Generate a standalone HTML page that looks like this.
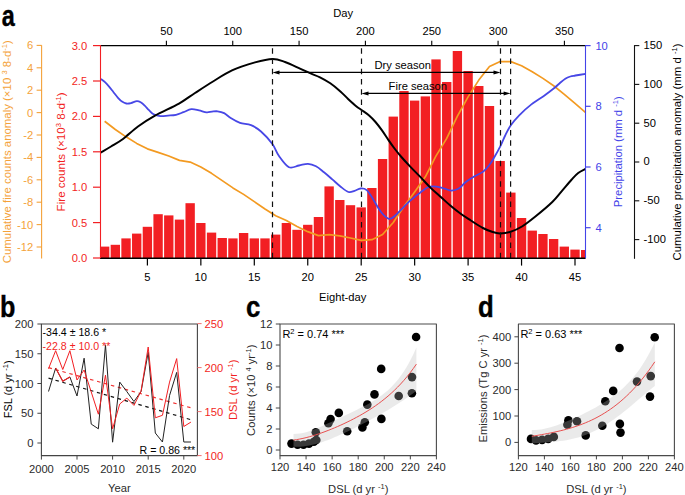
<!DOCTYPE html>
<html><head><meta charset="utf-8"><style>
html,body{margin:0;padding:0;background:#fff;width:685px;height:495px;overflow:hidden}
svg{display:block;font-family:"Liberation Sans", sans-serif}
</style></head><body>
<svg width="685" height="495" viewBox="0 0 685 495">
<rect width="685" height="495" fill="#fff"/>
<rect x="99.97" y="246.6" width="9.35" height="11.6" fill="#F21F23"/>
<rect x="110.66" y="244.8" width="9.35" height="13.4" fill="#F21F23"/>
<rect x="121.35" y="238.4" width="9.35" height="19.8" fill="#F21F23"/>
<rect x="132.03" y="233.6" width="9.35" height="24.6" fill="#F21F23"/>
<rect x="142.72" y="226.8" width="9.35" height="31.4" fill="#F21F23"/>
<rect x="153.41" y="214.2" width="9.35" height="44" fill="#F21F23"/>
<rect x="164.1" y="215.4" width="9.35" height="42.8" fill="#F21F23"/>
<rect x="174.79" y="219.6" width="9.35" height="38.6" fill="#F21F23"/>
<rect x="185.48" y="203.2" width="9.35" height="55" fill="#F21F23"/>
<rect x="196.17" y="223" width="9.35" height="35.2" fill="#F21F23"/>
<rect x="206.87" y="232.6" width="9.35" height="25.6" fill="#F21F23"/>
<rect x="217.56" y="238" width="9.35" height="20.2" fill="#F21F23"/>
<rect x="228.25" y="238.4" width="9.35" height="19.8" fill="#F21F23"/>
<rect x="238.94" y="233" width="9.35" height="25.2" fill="#F21F23"/>
<rect x="249.62" y="238.4" width="9.35" height="19.8" fill="#F21F23"/>
<rect x="260.31" y="238.4" width="9.35" height="19.8" fill="#F21F23"/>
<rect x="271" y="234.6" width="9.35" height="23.6" fill="#F21F23"/>
<rect x="281.69" y="223" width="9.35" height="35.2" fill="#F21F23"/>
<rect x="292.38" y="229.8" width="9.35" height="28.4" fill="#F21F23"/>
<rect x="303.07" y="224.8" width="9.35" height="33.4" fill="#F21F23"/>
<rect x="313.76" y="217" width="9.35" height="41.2" fill="#F21F23"/>
<rect x="324.45" y="186.4" width="9.35" height="71.8" fill="#F21F23"/>
<rect x="335.14" y="200" width="9.35" height="58.2" fill="#F21F23"/>
<rect x="345.83" y="205.2" width="9.35" height="53" fill="#F21F23"/>
<rect x="356.52" y="207.4" width="9.35" height="50.8" fill="#F21F23"/>
<rect x="367.21" y="188" width="9.35" height="70.2" fill="#F21F23"/>
<rect x="377.9" y="159" width="9.35" height="99.2" fill="#F21F23"/>
<rect x="388.59" y="116.6" width="9.35" height="141.6" fill="#F21F23"/>
<rect x="399.29" y="91" width="9.35" height="167.2" fill="#F21F23"/>
<rect x="409.97" y="100.6" width="9.35" height="157.6" fill="#F21F23"/>
<rect x="420.67" y="96.4" width="9.35" height="161.8" fill="#F21F23"/>
<rect x="431.35" y="59.4" width="9.35" height="198.8" fill="#F21F23"/>
<rect x="442.05" y="82" width="9.35" height="176.2" fill="#F21F23"/>
<rect x="452.73" y="51" width="9.35" height="207.2" fill="#F21F23"/>
<rect x="463.43" y="71" width="9.35" height="187.2" fill="#F21F23"/>
<rect x="474.11" y="86" width="9.35" height="172.2" fill="#F21F23"/>
<rect x="484.81" y="106" width="9.35" height="152.2" fill="#F21F23"/>
<rect x="495.49" y="161" width="9.35" height="97.2" fill="#F21F23"/>
<rect x="506.19" y="192.6" width="9.35" height="65.6" fill="#F21F23"/>
<rect x="516.88" y="218" width="9.35" height="40.2" fill="#F21F23"/>
<rect x="527.57" y="230.6" width="9.35" height="27.6" fill="#F21F23"/>
<rect x="538.25" y="234" width="9.35" height="24.2" fill="#F21F23"/>
<rect x="548.95" y="239" width="9.35" height="19.2" fill="#F21F23"/>
<rect x="559.63" y="246.6" width="9.35" height="11.6" fill="#F21F23"/>
<rect x="570.33" y="249.6" width="9.35" height="8.6" fill="#F21F23"/>
<rect x="581.01" y="250" width="4.59" height="8.2" fill="#F21F23"/>
<polyline fill="none" stroke="#F39A21" stroke-width="1.7" stroke-linejoin="round" points="104.64,121.21 115.33,129.53 126.02,136.84 136.71,143.39 147.4,148.86 158.09,152.34 168.78,156.01 179.47,160.35 190.16,162.09 200.85,166.96 211.54,173.35 222.23,180.6 232.92,187.91 243.61,194.36 254.3,201.67 264.99,208.98 275.68,215.69 286.37,220.56 297.06,226.51 307.75,231.67 318.44,235.59 329.13,234.68 339.82,235.91 350.51,237.97 361.2,240.37 371.89,239.71 382.58,234.46 393.27,222.5 403.96,206.49 414.65,192 425.34,176.85 436.03,155.84 446.72,138.41 457.41,116.07 468.1,96.9 478.79,80.1 489.48,66.46 500.17,61.53 510.86,61.59 521.55,65.68 532.24,71.75 542.93,78.36 553.62,85.77 564.31,94.37 575,103.46 585.69,112.6"/>
<path d="M100.8,78.9 C101.5,79.45 103.62,80.9 105,82.2 C106.38,83.5 107.68,85.03 109.1,86.7 C110.52,88.37 112.02,90.35 113.5,92.2 C114.98,94.05 116.58,96.23 118,97.8 C119.42,99.37 120.62,100.65 122,101.6 C123.38,102.55 124.8,103.25 126.3,103.5 C127.8,103.75 129.23,103.5 131,103.1 C132.77,102.7 135.23,101.2 136.9,101.1 C138.57,101 139.7,101.75 141,102.5 C142.3,103.25 143.37,104.32 144.7,105.6 C146.03,106.88 147.52,108.75 149,110.2 C150.48,111.65 151.73,113.32 153.6,114.3 C155.47,115.28 157.8,115.88 160.2,116.1 C162.6,116.32 165.37,115.82 168,115.6 C170.63,115.38 173.42,115.37 176,114.8 C178.58,114.23 180.95,113.13 183.5,112.2 C186.05,111.27 188.72,109.5 191.3,109.2 C193.88,108.9 196.45,109.88 199,110.4 C201.55,110.92 204.43,112.1 206.6,112.3 C208.77,112.5 210.17,111.77 212,111.6 C213.83,111.43 215.58,111.05 217.6,111.3 C219.62,111.55 221.92,111.98 224.1,113.1 C226.28,114.22 228.05,116.37 230.7,118 C233.35,119.63 236.62,121.7 240,122.9 C243.38,124.1 247.5,123.77 251,125.2 C254.5,126.63 257.43,128.37 261,131.5 C264.57,134.63 269.4,139.92 272.4,144 C275.4,148.08 276.23,152.13 279,156 C281.77,159.87 285.67,165.62 289,167.2 C292.33,168.78 295.83,166.07 299,165.5 C302.17,164.93 305.17,163.67 308,163.8 C310.83,163.93 313.33,164.88 316,166.3 C318.67,167.72 321.28,170.12 324,172.3 C326.72,174.48 329.57,177.03 332.3,179.4 C335.03,181.77 337.7,184.4 340.4,186.5 C343.1,188.6 346.15,191.27 348.5,192 C350.85,192.73 352.48,191.48 354.5,190.9 C356.52,190.32 358.57,188.63 360.6,188.5 C362.63,188.37 364.68,188.42 366.7,190.1 C368.72,191.78 370.35,195 372.7,198.6 C375.05,202.2 378.1,208.33 380.8,211.7 C383.5,215.07 386.53,218.12 388.9,218.8 C391.27,219.48 393.15,217.13 395,215.8 C396.85,214.47 397.47,213.32 400,210.8 C402.53,208.28 406.82,203.73 410.2,200.7 C413.58,197.67 417.27,194.88 420.3,192.6 C423.33,190.32 425.7,188 428.4,187 C431.1,186 433.82,186.33 436.5,186.6 C439.18,186.87 441.98,187.93 444.5,188.6 C447.02,189.27 449.23,190.6 451.6,190.6 C453.97,190.6 456.38,189.98 458.7,188.6 C461.02,187.22 462.93,184.3 465.5,182.3 C468.07,180.3 471.15,178.38 474.1,176.6 C477.05,174.82 480.68,173.48 483.2,171.6 C485.72,169.72 487.35,167.7 489.2,165.3 C491.05,162.9 492.43,160.4 494.3,157.2 C496.17,154 498.58,149.72 500.4,146.1 C502.22,142.48 503.47,138.97 505.2,135.5 C506.93,132.03 508.47,128.67 510.8,125.3 C513.13,121.93 515.77,118.78 519.2,115.3 C522.63,111.82 527.35,107.58 531.4,104.4 C535.45,101.22 540.38,98.38 543.5,96.2 C546.62,94.02 548.15,92.78 550.1,91.3 C552.05,89.82 553.52,88.73 555.2,87.3 C556.88,85.87 558.52,84.13 560.2,82.7 C561.88,81.27 563.62,79.73 565.3,78.7 C566.98,77.67 568.62,77.03 570.3,76.5 C571.98,75.97 572.85,75.93 575.4,75.5 C577.95,75.07 583.9,74.17 585.6,73.9" fill="none" stroke="#4747E6" stroke-width="1.8"/>
<path d="M100.6,152.6 C102.33,151.58 107.27,148.77 111,146.5 C114.73,144.23 118.5,142.33 123,139 C127.5,135.67 132.67,130.4 138,126.5 C143.33,122.6 148.17,119.42 155,115.6 C161.83,111.78 172.33,107.37 179,103.6 C185.67,99.83 189.33,96.68 195,93 C200.67,89.32 206.83,85.27 213,81.5 C219.17,77.73 225,73.58 232,70.4 C239,67.22 248.23,64.3 255,62.4 C261.77,60.5 267.6,59.07 272.6,59 C277.6,58.93 280.43,60.4 285,62 C289.57,63.6 295.83,66.73 300,68.6 C304.17,70.47 306.67,71.75 310,73.2 C313.33,74.65 316.62,75.62 320,77.3 C323.38,78.98 326.9,80.95 330.3,83.3 C333.7,85.65 337.43,88.8 340.4,91.4 C343.37,94 345.47,96.43 348.1,98.9 C350.73,101.37 353.92,104.32 356.2,106.2 C358.48,108.08 359.65,108.65 361.8,110.2 C363.95,111.75 366.82,113.53 369.1,115.5 C371.38,117.47 373.35,119.52 375.5,122 C377.65,124.48 379.83,127.38 382,130.4 C384.17,133.42 386.35,137 388.5,140.1 C390.65,143.2 392.75,146.18 394.9,149 C397.05,151.82 398.85,154.07 401.4,157 C403.95,159.93 407.05,163.28 410.2,166.6 C413.35,169.92 416.93,173.4 420.3,176.9 C423.67,180.4 427.03,184.3 430.4,187.6 C433.77,190.9 437.13,193.67 440.5,196.7 C443.87,199.73 447.23,202.95 450.6,205.8 C453.97,208.65 457.33,211.35 460.7,213.8 C464.07,216.25 467.1,218.13 470.8,220.5 C474.5,222.87 479.37,226.12 482.9,228 C486.43,229.88 489.15,230.9 492,231.8 C494.85,232.7 497,233.37 500,233.4 C503,233.43 506.33,233.15 510,232 C513.67,230.85 517.67,229.17 522,226.5 C526.33,223.83 530.95,220.08 536,216 C541.05,211.92 547.97,206.2 552.3,202 C556.63,197.8 558.77,194.55 562,190.8 C565.23,187.05 569,182.47 571.7,179.5 C574.4,176.53 575.88,174.77 578.2,173 C580.52,171.23 584.37,169.58 585.6,168.9" fill="none" stroke="#000" stroke-width="2"/>
<line x1="272.5" y1="48.3" x2="272.5" y2="258.2" stroke="#111" stroke-width="1.2" stroke-dasharray="5.5 4.72"/>
<line x1="361.5" y1="48.3" x2="361.5" y2="258.2" stroke="#111" stroke-width="1.2" stroke-dasharray="5.5 4.72"/>
<line x1="500.5" y1="48.3" x2="500.5" y2="258.2" stroke="#111" stroke-width="1.2" stroke-dasharray="5.5 4.72"/>
<line x1="510.6" y1="48.3" x2="510.6" y2="258.2" stroke="#111" stroke-width="1.2" stroke-dasharray="5.5 4.72"/>
<line x1="277.5" y1="72.4" x2="495.5" y2="72.4" stroke="#000" stroke-width="1.1" />
<path d="M272.5,72.4 L279.5,70.4 L279.5,74.4 Z" fill="#000"/>
<path d="M500.5,72.4 L493.5,70.4 L493.5,74.4 Z" fill="#000"/>
<line x1="366.5" y1="93.4" x2="505.6" y2="93.4" stroke="#000" stroke-width="1.1" />
<path d="M361.5,93.4 L368.5,91.4 L368.5,95.4 Z" fill="#000"/>
<path d="M510.6,93.4 L503.6,91.4 L503.6,95.4 Z" fill="#000"/>
<text x="374.4" y="69.2" font-size="11.2" fill="#000" text-anchor="start" font-weight="normal" >Dry season</text>
<text x="388.6" y="90" font-size="11.2" fill="#000" text-anchor="start" font-weight="normal" >Fire season</text>
<line x1="100" y1="45.6" x2="585.6" y2="45.6" stroke="#000" stroke-width="1.2" />
<line x1="100" y1="258.2" x2="585.6" y2="258.2" stroke="#000" stroke-width="1.4" />
<line x1="100.5" y1="45" x2="100.5" y2="258.2" stroke="#F21F23" stroke-width="1.1" />
<line x1="41.6" y1="45.3" x2="41.6" y2="258.6" stroke="#F4A23A" stroke-width="1.1" />
<line x1="585.5" y1="45" x2="585.5" y2="258.2" stroke="#4343E8" stroke-width="1.1" />
<line x1="634.5" y1="45.1" x2="634.5" y2="258.8" stroke="#111" stroke-width="1.1" />
<line x1="166.4" y1="40.8" x2="166.4" y2="45.6" stroke="#000" stroke-width="1.1" />
<text x="166.4" y="35" font-size="11.2" fill="#000" text-anchor="middle" font-weight="normal" >50</text>
<line x1="232.74" y1="40.8" x2="232.74" y2="45.6" stroke="#000" stroke-width="1.1" />
<text x="232.74" y="35" font-size="11.2" fill="#000" text-anchor="middle" font-weight="normal" >100</text>
<line x1="299.07" y1="40.8" x2="299.07" y2="45.6" stroke="#000" stroke-width="1.1" />
<text x="299.07" y="35" font-size="11.2" fill="#000" text-anchor="middle" font-weight="normal" >150</text>
<line x1="365.41" y1="40.8" x2="365.41" y2="45.6" stroke="#000" stroke-width="1.1" />
<text x="365.41" y="35" font-size="11.2" fill="#000" text-anchor="middle" font-weight="normal" >200</text>
<line x1="431.75" y1="40.8" x2="431.75" y2="45.6" stroke="#000" stroke-width="1.1" />
<text x="431.75" y="35" font-size="11.2" fill="#000" text-anchor="middle" font-weight="normal" >250</text>
<line x1="498.08" y1="40.8" x2="498.08" y2="45.6" stroke="#000" stroke-width="1.1" />
<text x="498.08" y="35" font-size="11.2" fill="#000" text-anchor="middle" font-weight="normal" >300</text>
<line x1="564.41" y1="40.8" x2="564.41" y2="45.6" stroke="#000" stroke-width="1.1" />
<text x="564.41" y="35" font-size="11.2" fill="#000" text-anchor="middle" font-weight="normal" >350</text>
<text x="343.2" y="16.8" font-size="11.2" fill="#000" text-anchor="middle" font-weight="normal" >Day</text>
<line x1="147.4" y1="258.2" x2="147.4" y2="265.6" stroke="#000" stroke-width="1.2" />
<text x="147.4" y="280.6" font-size="11.2" fill="#000" text-anchor="middle" font-weight="normal" >5</text>
<line x1="200.85" y1="258.2" x2="200.85" y2="265.6" stroke="#000" stroke-width="1.2" />
<text x="200.85" y="280.6" font-size="11.2" fill="#000" text-anchor="middle" font-weight="normal" >10</text>
<line x1="254.3" y1="258.2" x2="254.3" y2="265.6" stroke="#000" stroke-width="1.2" />
<text x="254.3" y="280.6" font-size="11.2" fill="#000" text-anchor="middle" font-weight="normal" >15</text>
<line x1="307.75" y1="258.2" x2="307.75" y2="265.6" stroke="#000" stroke-width="1.2" />
<text x="307.75" y="280.6" font-size="11.2" fill="#000" text-anchor="middle" font-weight="normal" >20</text>
<line x1="361.2" y1="258.2" x2="361.2" y2="265.6" stroke="#000" stroke-width="1.2" />
<text x="361.2" y="280.6" font-size="11.2" fill="#000" text-anchor="middle" font-weight="normal" >25</text>
<line x1="414.65" y1="258.2" x2="414.65" y2="265.6" stroke="#000" stroke-width="1.2" />
<text x="414.65" y="280.6" font-size="11.2" fill="#000" text-anchor="middle" font-weight="normal" >30</text>
<line x1="468.1" y1="258.2" x2="468.1" y2="265.6" stroke="#000" stroke-width="1.2" />
<text x="468.1" y="280.6" font-size="11.2" fill="#000" text-anchor="middle" font-weight="normal" >35</text>
<line x1="521.55" y1="258.2" x2="521.55" y2="265.6" stroke="#000" stroke-width="1.2" />
<text x="521.55" y="280.6" font-size="11.2" fill="#000" text-anchor="middle" font-weight="normal" >40</text>
<line x1="575" y1="258.2" x2="575" y2="265.6" stroke="#000" stroke-width="1.2" />
<text x="575" y="280.6" font-size="11.2" fill="#000" text-anchor="middle" font-weight="normal" >45</text>
<text x="342.7" y="301" font-size="11.2" fill="#000" text-anchor="middle" font-weight="normal" >Eight-day</text>
<line x1="93" y1="258" x2="100" y2="258" stroke="#F21F23" stroke-width="1.2" />
<text x="87.2" y="262" font-size="11.2" fill="#F21F23" text-anchor="end" font-weight="normal" >0.0</text>
<line x1="93" y1="222.6" x2="100" y2="222.6" stroke="#F21F23" stroke-width="1.2" />
<text x="87.2" y="226.6" font-size="11.2" fill="#F21F23" text-anchor="end" font-weight="normal" >0.5</text>
<line x1="93" y1="187.2" x2="100" y2="187.2" stroke="#F21F23" stroke-width="1.2" />
<text x="87.2" y="191.2" font-size="11.2" fill="#F21F23" text-anchor="end" font-weight="normal" >1.0</text>
<line x1="93" y1="151.8" x2="100" y2="151.8" stroke="#F21F23" stroke-width="1.2" />
<text x="87.2" y="155.8" font-size="11.2" fill="#F21F23" text-anchor="end" font-weight="normal" >1.5</text>
<line x1="93" y1="116.4" x2="100" y2="116.4" stroke="#F21F23" stroke-width="1.2" />
<text x="87.2" y="120.4" font-size="11.2" fill="#F21F23" text-anchor="end" font-weight="normal" >2.0</text>
<line x1="93" y1="81" x2="100" y2="81" stroke="#F21F23" stroke-width="1.2" />
<text x="87.2" y="85" font-size="11.2" fill="#F21F23" text-anchor="end" font-weight="normal" >2.5</text>
<line x1="93" y1="45.6" x2="100" y2="45.6" stroke="#F21F23" stroke-width="1.2" />
<text x="87.2" y="49.6" font-size="11.2" fill="#F21F23" text-anchor="end" font-weight="normal" >3.0</text>
<line x1="36.6" y1="45.4" x2="41.7" y2="45.4" stroke="#F4A23A" stroke-width="1.1" />
<text x="33.2" y="49.4" font-size="11.2" fill="#F4A23A" text-anchor="end" font-weight="normal" >6</text>
<line x1="36.6" y1="67.8" x2="41.7" y2="67.8" stroke="#F4A23A" stroke-width="1.1" />
<text x="33.2" y="71.8" font-size="11.2" fill="#F4A23A" text-anchor="end" font-weight="normal" >4</text>
<line x1="36.6" y1="90.2" x2="41.7" y2="90.2" stroke="#F4A23A" stroke-width="1.1" />
<text x="33.2" y="94.2" font-size="11.2" fill="#F4A23A" text-anchor="end" font-weight="normal" >2</text>
<line x1="36.6" y1="112.6" x2="41.7" y2="112.6" stroke="#F4A23A" stroke-width="1.1" />
<text x="33.2" y="116.6" font-size="11.2" fill="#F4A23A" text-anchor="end" font-weight="normal" >0</text>
<line x1="36.6" y1="135" x2="41.7" y2="135" stroke="#F4A23A" stroke-width="1.1" />
<text x="33.2" y="139" font-size="11.2" fill="#F4A23A" text-anchor="end" font-weight="normal" >-2</text>
<line x1="36.6" y1="157.4" x2="41.7" y2="157.4" stroke="#F4A23A" stroke-width="1.1" />
<text x="33.2" y="161.4" font-size="11.2" fill="#F4A23A" text-anchor="end" font-weight="normal" >-4</text>
<line x1="36.6" y1="179.8" x2="41.7" y2="179.8" stroke="#F4A23A" stroke-width="1.1" />
<text x="33.2" y="183.8" font-size="11.2" fill="#F4A23A" text-anchor="end" font-weight="normal" >-6</text>
<line x1="36.6" y1="202.2" x2="41.7" y2="202.2" stroke="#F4A23A" stroke-width="1.1" />
<text x="33.2" y="206.2" font-size="11.2" fill="#F4A23A" text-anchor="end" font-weight="normal" >-8</text>
<line x1="36.6" y1="224.6" x2="41.7" y2="224.6" stroke="#F4A23A" stroke-width="1.1" />
<text x="33.2" y="228.6" font-size="11.2" fill="#F4A23A" text-anchor="end" font-weight="normal" >-10</text>
<line x1="36.6" y1="247" x2="41.7" y2="247" stroke="#F4A23A" stroke-width="1.1" />
<text x="33.2" y="251" font-size="11.2" fill="#F4A23A" text-anchor="end" font-weight="normal" >-12</text>
<line x1="585.6" y1="227.7" x2="590.6" y2="227.7" stroke="#4343E8" stroke-width="1.2" />
<text x="595.4" y="231.7" font-size="11.2" fill="#4343E8" text-anchor="start" font-weight="normal" >4</text>
<line x1="585.6" y1="167" x2="590.6" y2="167" stroke="#4343E8" stroke-width="1.2" />
<text x="595.4" y="171" font-size="11.2" fill="#4343E8" text-anchor="start" font-weight="normal" >6</text>
<line x1="585.6" y1="106.3" x2="590.6" y2="106.3" stroke="#4343E8" stroke-width="1.2" />
<text x="595.4" y="110.3" font-size="11.2" fill="#4343E8" text-anchor="start" font-weight="normal" >8</text>
<line x1="585.6" y1="45.6" x2="590.6" y2="45.6" stroke="#4343E8" stroke-width="1.2" />
<text x="595.4" y="49.6" font-size="11.2" fill="#4343E8" text-anchor="start" font-weight="normal" >10</text>
<line x1="634.5" y1="45.6" x2="639.3" y2="45.6" stroke="#111" stroke-width="1.1" />
<text x="643.6" y="48.9" font-size="11.2" fill="#000" text-anchor="start" font-weight="normal" >150</text>
<line x1="634.5" y1="84.4" x2="639.3" y2="84.4" stroke="#111" stroke-width="1.1" />
<text x="643.6" y="87.7" font-size="11.2" fill="#000" text-anchor="start" font-weight="normal" >100</text>
<line x1="634.5" y1="123.2" x2="639.3" y2="123.2" stroke="#111" stroke-width="1.1" />
<text x="643.6" y="126.5" font-size="11.2" fill="#000" text-anchor="start" font-weight="normal" >50</text>
<line x1="634.5" y1="162" x2="639.3" y2="162" stroke="#111" stroke-width="1.1" />
<text x="643.6" y="165.3" font-size="11.2" fill="#000" text-anchor="start" font-weight="normal" >0</text>
<line x1="634.5" y1="200.8" x2="639.3" y2="200.8" stroke="#111" stroke-width="1.1" />
<text x="643.6" y="204.1" font-size="11.2" fill="#000" text-anchor="start" font-weight="normal" >-50</text>
<line x1="634.5" y1="239.6" x2="639.3" y2="239.6" stroke="#111" stroke-width="1.1" />
<text x="643.6" y="242.9" font-size="11.2" fill="#000" text-anchor="start" font-weight="normal" >-100</text>
<text transform="translate(10.9,151.75) rotate(-90)" font-size="11.42" fill="#F4A23A" text-anchor="middle">Cumulative fire counts anomaly (×10 <tspan dy="-4" font-size="7.5">3</tspan><tspan dy="4"> 8-d</tspan><tspan dy="-4" font-size="7.5">-1</tspan><tspan dy="4">)</tspan></text>
<text transform="translate(64.6,151.9) rotate(-90)" font-size="11.6" fill="#F21F23" text-anchor="middle">Fire counts (×10<tspan dy="-4" font-size="7.6">3</tspan><tspan dy="4"> 8-d</tspan><tspan dy="-4" font-size="7.6">-1</tspan><tspan dy="4">)</tspan></text>
<text transform="translate(621.5,151.7) rotate(-90)" font-size="11.3" fill="#4343E8" text-anchor="middle">Precipitation (mm d <tspan dy="-4" font-size="7.6">-1</tspan><tspan dy="4">)</tspan></text>
<text transform="translate(680.9,152) rotate(-90)" font-size="11.4" fill="#000" text-anchor="middle">Cumulative precipitation anomaly (mm d <tspan dy="-4" font-size="7.6">-1</tspan><tspan dy="4">)</tspan></text>
<text transform="translate(1.77,25.7) scale(0.78,1)" font-size="30" font-weight="bold" fill="#000" stroke="#000" stroke-width="0.4">a</text>
<text transform="translate(-0.07,316.5) scale(0.84,1)" font-size="30" font-weight="bold" fill="#000" stroke="#000" stroke-width="0.4">b</text>
<text transform="translate(246.1,316.9) scale(0.86,1)" font-size="30" font-weight="bold" fill="#000" stroke="#000" stroke-width="0.4">c</text>
<text transform="translate(478,316.7) scale(0.86,1)" font-size="30" font-weight="bold" fill="#000" stroke="#000" stroke-width="0.4">d</text>
<rect x="41.4" y="324.0" width="156" height="131.6" fill="none" stroke="#444" stroke-width="1.1" stroke-linejoin="round"/>
<line x1="37.4" y1="443" x2="41.4" y2="443" stroke="#444" stroke-width="1" />
<text x="33.4" y="447" font-size="11.2" fill="#2b2b2b" text-anchor="end" font-weight="normal" >0</text>
<line x1="37.4" y1="413.25" x2="41.4" y2="413.25" stroke="#444" stroke-width="1" />
<text x="33.4" y="417.25" font-size="11.2" fill="#2b2b2b" text-anchor="end" font-weight="normal" >50</text>
<line x1="37.4" y1="383.5" x2="41.4" y2="383.5" stroke="#444" stroke-width="1" />
<text x="33.4" y="387.5" font-size="11.2" fill="#2b2b2b" text-anchor="end" font-weight="normal" >100</text>
<line x1="37.4" y1="353.75" x2="41.4" y2="353.75" stroke="#444" stroke-width="1" />
<text x="33.4" y="357.75" font-size="11.2" fill="#2b2b2b" text-anchor="end" font-weight="normal" >150</text>
<line x1="37.4" y1="324" x2="41.4" y2="324" stroke="#444" stroke-width="1" />
<text x="33.4" y="328" font-size="11.2" fill="#2b2b2b" text-anchor="end" font-weight="normal" >200</text>
<line x1="197.4" y1="455.6" x2="201.6" y2="455.6" stroke="#F07070" stroke-width="1" />
<text x="204.6" y="459.6" font-size="11.2" fill="#F21F23" text-anchor="start" font-weight="normal" >100</text>
<line x1="197.4" y1="411.6" x2="201.6" y2="411.6" stroke="#F07070" stroke-width="1" />
<text x="204.6" y="415.6" font-size="11.2" fill="#F21F23" text-anchor="start" font-weight="normal" >150</text>
<line x1="197.4" y1="367.6" x2="201.6" y2="367.6" stroke="#F07070" stroke-width="1" />
<text x="204.6" y="371.6" font-size="11.2" fill="#F21F23" text-anchor="start" font-weight="normal" >200</text>
<line x1="197.4" y1="323.6" x2="201.6" y2="323.6" stroke="#F07070" stroke-width="1" />
<text x="204.6" y="327.6" font-size="11.2" fill="#F21F23" text-anchor="start" font-weight="normal" >250</text>
<line x1="41.4" y1="455.6" x2="41.4" y2="459.6" stroke="#444" stroke-width="1" />
<text x="41.4" y="472.6" font-size="11.2" fill="#2b2b2b" text-anchor="middle" font-weight="normal" >2000</text>
<line x1="77" y1="455.6" x2="77" y2="459.6" stroke="#444" stroke-width="1" />
<text x="77" y="472.6" font-size="11.2" fill="#2b2b2b" text-anchor="middle" font-weight="normal" >2005</text>
<line x1="112.6" y1="455.6" x2="112.6" y2="459.6" stroke="#444" stroke-width="1" />
<text x="112.6" y="472.6" font-size="11.2" fill="#2b2b2b" text-anchor="middle" font-weight="normal" >2010</text>
<line x1="148.2" y1="455.6" x2="148.2" y2="459.6" stroke="#444" stroke-width="1" />
<text x="148.2" y="472.6" font-size="11.2" fill="#2b2b2b" text-anchor="middle" font-weight="normal" >2015</text>
<line x1="183.8" y1="455.6" x2="183.8" y2="459.6" stroke="#444" stroke-width="1" />
<text x="183.8" y="472.6" font-size="11.2" fill="#2b2b2b" text-anchor="middle" font-weight="normal" >2020</text>
<text x="119.4" y="492" font-size="11.2" fill="#2b2b2b" text-anchor="middle" font-weight="normal" >Year</text>
<text transform="translate(11.5,389.3) rotate(-90)" font-size="10.95" fill="#000" text-anchor="middle">FSL (d yr <tspan dy="-4" font-size="7.5">-1</tspan><tspan dy="4">)</tspan></text>
<text transform="translate(236.6,389.8) rotate(-90)" font-size="11.2" fill="#F21F23" text-anchor="middle">DSL (d yr <tspan dy="-4" font-size="7.5">-1</tspan><tspan dy="4">)</tspan></text>
<line x1="48.52" y1="378.2" x2="190.92" y2="419.7" stroke="#111" stroke-width="1.2" stroke-dasharray="3.5 3.7"/>
<line x1="48.52" y1="367.6" x2="190.92" y2="407.8" stroke="#F03030" stroke-width="1.2" stroke-dasharray="3.5 3.7"/>
<polyline fill="none" stroke="#222" stroke-width="1" points="48.52,391.5 55.64,368.1 62.76,381.2 69.88,377 77,396 84.12,358.2 91.24,424.1 98.36,428.8 105.48,344.8 112.6,442.2 119.72,382.1 126.84,391.6 133.96,401.5 141.08,391.5 148.2,352.3 155.32,433 162.44,442 169.56,395.5 176.68,372.4 183.8,442 190.92,442"/>
<polyline fill="none" stroke="#F21F23" stroke-width="1" points="48.52,368.7 55.64,350.7 62.76,369.5 69.88,350.7 77,380 84.12,370 91.24,392 98.36,414.2 105.48,375.2 112.6,428.8 119.72,404 126.84,398.1 133.96,405.4 141.08,391 148.2,347 155.32,417.8 162.44,415.3 169.56,382.1 176.68,358.6 183.8,426.5 190.92,422.1"/>
<polyline fill="none" stroke="#F21F23" stroke-width="1.1" points="55.64,368.1 62.76,381.2 69.88,377"/>
<text x="42.6" y="335.6" font-size="10.6" fill="#000" text-anchor="start" font-weight="normal" >-34.4 ± 18.6 *</text>
<text x="42.6" y="350" font-size="10.6" fill="#F21F23" text-anchor="start" font-weight="normal" >-22.8 ± 10.0 **</text>
<text x="139.6" y="454" font-size="10.6" fill="#000" text-anchor="start" font-weight="normal" >R = 0.86 ***</text>
<rect x="280" y="324" width="156.4" height="131.6" fill="none" stroke="#4a4a4a" stroke-width="1.1" stroke-linejoin="round"/>
<line x1="275.8" y1="450" x2="280" y2="450" stroke="#444" stroke-width="1" />
<text x="272.4" y="454" font-size="11.2" fill="#2b2b2b" text-anchor="end" font-weight="normal" >0</text>
<line x1="275.8" y1="429" x2="280" y2="429" stroke="#444" stroke-width="1" />
<text x="272.4" y="433" font-size="11.2" fill="#2b2b2b" text-anchor="end" font-weight="normal" >2</text>
<line x1="275.8" y1="408" x2="280" y2="408" stroke="#444" stroke-width="1" />
<text x="272.4" y="412" font-size="11.2" fill="#2b2b2b" text-anchor="end" font-weight="normal" >4</text>
<line x1="275.8" y1="387" x2="280" y2="387" stroke="#444" stroke-width="1" />
<text x="272.4" y="391" font-size="11.2" fill="#2b2b2b" text-anchor="end" font-weight="normal" >6</text>
<line x1="275.8" y1="366" x2="280" y2="366" stroke="#444" stroke-width="1" />
<text x="272.4" y="370" font-size="11.2" fill="#2b2b2b" text-anchor="end" font-weight="normal" >8</text>
<line x1="275.8" y1="345" x2="280" y2="345" stroke="#444" stroke-width="1" />
<text x="272.4" y="349" font-size="11.2" fill="#2b2b2b" text-anchor="end" font-weight="normal" >10</text>
<line x1="275.8" y1="324" x2="280" y2="324" stroke="#444" stroke-width="1" />
<text x="272.4" y="328" font-size="11.2" fill="#2b2b2b" text-anchor="end" font-weight="normal" >12</text>
<line x1="280" y1="455.6" x2="280" y2="459.4" stroke="#444" stroke-width="1" />
<text x="280" y="471.4" font-size="11.2" fill="#2b2b2b" text-anchor="middle" font-weight="normal" >120</text>
<line x1="306.07" y1="455.6" x2="306.07" y2="459.4" stroke="#444" stroke-width="1" />
<text x="306.07" y="471.4" font-size="11.2" fill="#2b2b2b" text-anchor="middle" font-weight="normal" >140</text>
<line x1="332.13" y1="455.6" x2="332.13" y2="459.4" stroke="#444" stroke-width="1" />
<text x="332.13" y="471.4" font-size="11.2" fill="#2b2b2b" text-anchor="middle" font-weight="normal" >160</text>
<line x1="358.2" y1="455.6" x2="358.2" y2="459.4" stroke="#444" stroke-width="1" />
<text x="358.2" y="471.4" font-size="11.2" fill="#2b2b2b" text-anchor="middle" font-weight="normal" >180</text>
<line x1="384.26" y1="455.6" x2="384.26" y2="459.4" stroke="#444" stroke-width="1" />
<text x="384.26" y="471.4" font-size="11.2" fill="#2b2b2b" text-anchor="middle" font-weight="normal" >200</text>
<line x1="410.33" y1="455.6" x2="410.33" y2="459.4" stroke="#444" stroke-width="1" />
<text x="410.33" y="471.4" font-size="11.2" fill="#2b2b2b" text-anchor="middle" font-weight="normal" >220</text>
<line x1="436.4" y1="455.6" x2="436.4" y2="459.4" stroke="#444" stroke-width="1" />
<text x="436.4" y="471.4" font-size="11.2" fill="#2b2b2b" text-anchor="middle" font-weight="normal" >240</text>
<text x="358.3" y="493" font-size="11.2" fill="#2b2b2b" text-anchor="middle" font-weight="normal" >DSL (d yr <tspan dy="-4" font-size="7.5">-1</tspan><tspan dy="4">)</tspan></text>
<text transform="translate(255.2,390.2) rotate(-90)" font-size="11.2" fill="#2b2b2b" text-anchor="middle">Counts (×10 <tspan dy="-4" font-size="7.5">4</tspan><tspan dy="4"> yr</tspan><tspan dy="-4" font-size="7.5">-1</tspan><tspan dy="4">)</tspan></text>
<text x="282.4" y="337.6" font-size="11" fill="#000" text-anchor="start" font-weight="normal" >R<tspan dy="-4" font-size="7.5">2</tspan><tspan dy="4"> = 0.74 ***</tspan></text>
<circle cx="291.5" cy="443.6" r="4.3" fill="#000"/>
<circle cx="297.6" cy="444.8" r="4.3" fill="#000"/>
<circle cx="303.5" cy="444.8" r="4.3" fill="#000"/>
<circle cx="309" cy="443.6" r="4.3" fill="#000"/>
<circle cx="313.9" cy="441.8" r="4.3" fill="#000"/>
<circle cx="316.3" cy="440" r="4.3" fill="#000"/>
<circle cx="315.8" cy="432.3" r="4.3" fill="#000"/>
<circle cx="328.4" cy="423.2" r="4.3" fill="#000"/>
<circle cx="330.6" cy="419.1" r="4.3" fill="#000"/>
<circle cx="338.8" cy="412.9" r="4.3" fill="#000"/>
<circle cx="347.2" cy="431.3" r="4.3" fill="#000"/>
<circle cx="362.4" cy="427.4" r="4.3" fill="#000"/>
<circle cx="364.8" cy="422.3" r="4.3" fill="#000"/>
<circle cx="367.3" cy="404.6" r="4.3" fill="#000"/>
<circle cx="374.5" cy="394.4" r="4.3" fill="#000"/>
<circle cx="381.2" cy="368.9" r="4.3" fill="#000"/>
<circle cx="381.4" cy="418.9" r="4.3" fill="#000"/>
<circle cx="398.7" cy="396" r="4.3" fill="#000"/>
<circle cx="412" cy="377.1" r="4.3" fill="#000"/>
<circle cx="411.9" cy="393.2" r="4.3" fill="#000"/>
<circle cx="416.1" cy="337" r="4.3" fill="#000"/>
<path d="M293.5,433.91 L296.65,433.84 L299.8,433.5 L302.95,432.92 L306.11,432.15 L309.26,431.2 L312.41,430.11 L315.56,428.9 L318.71,427.61 L321.86,426.24 L325.01,424.82 L328.16,423.37 L331.32,421.89 L334.47,420.4 L337.62,418.9 L340.77,417.41 L343.92,415.91 L347.07,414.42 L350.22,412.92 L353.37,411.42 L356.53,409.91 L359.68,408.36 L362.83,406.78 L365.98,405.14 L369.13,403.43 L372.28,401.62 L375.43,399.68 L378.58,397.6 L381.74,395.34 L384.89,392.87 L388.04,390.16 L391.19,387.16 L394.34,383.84 L397.49,380.15 L400.64,376.05 L403.79,371.49 L406.95,366.42 L410.1,360.79 L413.25,354.53 L416.4,347.59 L416.4,390.78 L413.25,393.22 L410.1,395.56 L406.95,397.81 L403.79,399.98 L400.64,402.08 L397.49,404.12 L394.34,406.1 L391.19,408.03 L388.04,409.91 L384.89,411.76 L381.74,413.57 L378.58,415.34 L375.43,417.09 L372.28,418.82 L369.13,420.51 L365.98,422.19 L362.83,423.83 L359.68,425.46 L356.53,427.06 L353.37,428.64 L350.22,430.18 L347.07,431.7 L343.92,433.18 L340.77,434.62 L337.62,436.01 L334.47,437.36 L331.32,438.65 L328.16,439.88 L325.01,441.04 L321.86,442.13 L318.71,443.13 L315.56,444.03 L312.41,444.82 L309.26,445.5 L306.11,446.06 L302.95,446.47 L299.8,446.73 L296.65,446.83 L293.5,446.75 Z" fill="rgba(187,187,187,0.3)"/>
<polyline points="293.5,440.07 296.65,439.61 299.8,439.04 302.95,438.38 306.11,437.63 309.26,436.8 312.41,435.89 315.56,434.92 318.71,433.88 321.86,432.78 325.01,431.63 328.16,430.42 331.32,429.17 334.47,427.86 337.62,426.51 340.77,425.11 343.92,423.66 347.07,422.16 350.22,420.61 353.37,419.01 356.53,417.34 359.68,415.61 362.83,413.81 365.98,411.94 369.13,409.98 372.28,407.94 375.43,405.8 378.58,403.55 381.74,401.19 384.89,398.7 388.04,396.08 391.19,393.3 394.34,390.37 397.49,387.26 400.64,383.97 403.79,380.47 406.95,376.75 410.1,372.8 413.25,368.59 416.4,364.12" fill="none" stroke="#E85050" stroke-width="1"/>
<rect x="518.4" y="324" width="156" height="131.6" fill="none" stroke="#4a4a4a" stroke-width="1.1" stroke-linejoin="round"/>
<line x1="514.4" y1="442.4" x2="518.4" y2="442.4" stroke="#444" stroke-width="1" />
<text x="511.2" y="446.4" font-size="11.2" fill="#2b2b2b" text-anchor="end" font-weight="normal" >0</text>
<line x1="514.4" y1="416" x2="518.4" y2="416" stroke="#444" stroke-width="1" />
<text x="511.2" y="420" font-size="11.2" fill="#2b2b2b" text-anchor="end" font-weight="normal" >100</text>
<line x1="514.4" y1="389.6" x2="518.4" y2="389.6" stroke="#444" stroke-width="1" />
<text x="511.2" y="393.6" font-size="11.2" fill="#2b2b2b" text-anchor="end" font-weight="normal" >200</text>
<line x1="514.4" y1="363.2" x2="518.4" y2="363.2" stroke="#444" stroke-width="1" />
<text x="511.2" y="367.2" font-size="11.2" fill="#2b2b2b" text-anchor="end" font-weight="normal" >300</text>
<line x1="514.4" y1="336.8" x2="518.4" y2="336.8" stroke="#444" stroke-width="1" />
<text x="511.2" y="340.8" font-size="11.2" fill="#2b2b2b" text-anchor="end" font-weight="normal" >400</text>
<line x1="518.4" y1="455.6" x2="518.4" y2="459.4" stroke="#444" stroke-width="1" />
<text x="518.4" y="471.4" font-size="11.2" fill="#2b2b2b" text-anchor="middle" font-weight="normal" >120</text>
<line x1="544.4" y1="455.6" x2="544.4" y2="459.4" stroke="#444" stroke-width="1" />
<text x="544.4" y="471.4" font-size="11.2" fill="#2b2b2b" text-anchor="middle" font-weight="normal" >140</text>
<line x1="570.4" y1="455.6" x2="570.4" y2="459.4" stroke="#444" stroke-width="1" />
<text x="570.4" y="471.4" font-size="11.2" fill="#2b2b2b" text-anchor="middle" font-weight="normal" >160</text>
<line x1="596.4" y1="455.6" x2="596.4" y2="459.4" stroke="#444" stroke-width="1" />
<text x="596.4" y="471.4" font-size="11.2" fill="#2b2b2b" text-anchor="middle" font-weight="normal" >180</text>
<line x1="622.4" y1="455.6" x2="622.4" y2="459.4" stroke="#444" stroke-width="1" />
<text x="622.4" y="471.4" font-size="11.2" fill="#2b2b2b" text-anchor="middle" font-weight="normal" >200</text>
<line x1="648.4" y1="455.6" x2="648.4" y2="459.4" stroke="#444" stroke-width="1" />
<text x="648.4" y="471.4" font-size="11.2" fill="#2b2b2b" text-anchor="middle" font-weight="normal" >220</text>
<line x1="674.4" y1="455.6" x2="674.4" y2="459.4" stroke="#444" stroke-width="1" />
<text x="674.4" y="471.4" font-size="11.2" fill="#2b2b2b" text-anchor="middle" font-weight="normal" >240</text>
<text x="596.4" y="493" font-size="11.2" fill="#2b2b2b" text-anchor="middle" font-weight="normal" >DSL (d yr <tspan dy="-4" font-size="7.5">-1</tspan><tspan dy="4">)</tspan></text>
<text transform="translate(487,388.5) rotate(-90)" font-size="11.2" fill="#2b2b2b" text-anchor="middle">Emissions (Tg C yr <tspan dy="-4" font-size="7.5">-1</tspan><tspan dy="4">)</tspan></text>
<text x="520.4" y="337.6" font-size="11" fill="#000" text-anchor="start" font-weight="normal" >R<tspan dy="-4" font-size="7.5">2</tspan><tspan dy="4"> = 0.63 ***</tspan></text>
<circle cx="531" cy="438.9" r="4.3" fill="#000"/>
<circle cx="536" cy="440.4" r="4.3" fill="#000"/>
<circle cx="542.1" cy="439.9" r="4.3" fill="#000"/>
<circle cx="548.2" cy="438.9" r="4.3" fill="#000"/>
<circle cx="553.8" cy="436.9" r="4.3" fill="#000"/>
<circle cx="567.4" cy="424.7" r="4.3" fill="#000"/>
<circle cx="568.4" cy="420.2" r="4.3" fill="#000"/>
<circle cx="577" cy="421.3" r="4.3" fill="#000"/>
<circle cx="585.7" cy="435.4" r="4.3" fill="#000"/>
<circle cx="602.3" cy="425.7" r="4.3" fill="#000"/>
<circle cx="605.3" cy="401.2" r="4.3" fill="#000"/>
<circle cx="613.2" cy="390.9" r="4.3" fill="#000"/>
<circle cx="619.5" cy="348" r="4.3" fill="#000"/>
<circle cx="619.9" cy="423.9" r="4.3" fill="#000"/>
<circle cx="620.5" cy="432.6" r="4.3" fill="#000"/>
<circle cx="637" cy="381.6" r="4.3" fill="#000"/>
<circle cx="650" cy="396.6" r="4.3" fill="#000"/>
<circle cx="650.7" cy="376.1" r="4.3" fill="#000"/>
<circle cx="654.7" cy="337.3" r="4.3" fill="#000"/>
<path d="M531.8,430.09 L534.95,430.05 L538.11,429.81 L541.26,429.38 L544.42,428.79 L547.57,428.05 L550.72,427.19 L553.88,426.21 L557.03,425.15 L560.18,424 L563.34,422.78 L566.49,421.5 L569.65,420.16 L572.8,418.78 L575.95,417.36 L579.11,415.89 L582.26,414.38 L585.42,412.83 L588.57,411.23 L591.72,409.58 L594.88,407.88 L598.03,406.11 L601.18,404.26 L604.34,402.32 L607.49,400.28 L610.65,398.12 L613.8,395.83 L616.95,393.38 L620.11,390.75 L623.26,387.92 L626.42,384.87 L629.57,381.57 L632.72,377.99 L635.88,374.1 L639.03,369.88 L642.18,365.27 L645.34,360.26 L648.49,354.8 L651.65,348.85 L654.8,342.38 L654.8,385.89 L651.65,388.45 L648.49,391.07 L645.34,393.73 L642.18,396.42 L639.03,399.12 L635.88,401.82 L632.72,404.49 L629.57,407.13 L626.42,409.72 L623.26,412.25 L620.11,414.71 L616.95,417.09 L613.8,419.38 L610.65,421.57 L607.49,423.65 L604.34,425.63 L601.18,427.49 L598.03,429.23 L594.88,430.85 L591.72,432.35 L588.57,433.73 L585.42,434.99 L582.26,436.12 L579.11,437.14 L575.95,438.05 L572.8,438.85 L569.65,439.54 L566.49,440.14 L563.34,440.66 L560.18,441.09 L557.03,441.46 L553.88,441.77 L550.72,442.03 L547.57,442.27 L544.42,442.49 L541.26,442.71 L538.11,442.94 L534.95,443.2 L531.8,443.52 Z" fill="rgba(187,187,187,0.3)"/>
<polyline points="531.8,436.31 534.95,435.78 538.11,435.24 541.26,434.69 544.42,434.12 547.57,433.52 550.72,432.9 553.88,432.25 557.03,431.56 560.18,430.83 563.34,430.05 566.49,429.22 569.65,428.33 572.8,427.38 575.95,426.36 579.11,425.27 582.26,424.1 585.42,422.84 588.57,421.49 591.72,420.05 594.88,418.51 598.03,416.85 601.18,415.09 604.34,413.2 607.49,411.19 610.65,409.05 613.8,406.78 616.95,404.36 620.11,401.79 623.26,399.06 626.42,396.17 629.57,393.12 632.72,389.88 635.88,386.47 639.03,382.87 642.18,379.08 645.34,375.08 648.49,370.88 651.65,366.46 654.8,361.82" fill="none" stroke="#E85050" stroke-width="1"/>
</svg>
</body></html>
